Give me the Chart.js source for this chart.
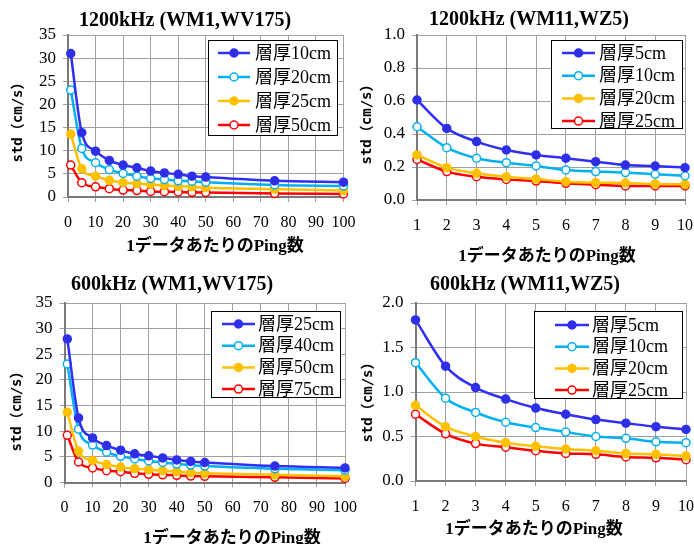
<!DOCTYPE html>
<html>
<head>
<meta charset="utf-8">
<script src="https://cdn.jsdelivr.net/npm/chart.js@4"></script>
<style>
  body { margin: 0; background: #fff; }
  #wrap { position: relative; width: 694px; height: 544px; overflow: hidden; }
  canvas { position: absolute; }
</style>
</head>
<body>
<div id="wrap">
  <canvas id="tl"></canvas>
  <canvas id="tr"></canvas>
  <canvas id="bl"></canvas>
  <canvas id="br"></canvas>
</div>
<script>
// Ping数 (x)
const pingsWide = [1, 5, 10, 15, 20, 25, 30, 35, 40, 45, 50, 75, 100];
const pingsNarrow = [1, 2, 3, 4, 5, 6, 7, 8, 9, 10];

// 1200kHz (WM1,WV175)
const tlLabels = ["層厚10cm", "層厚20cm", "層厚25cm", "層厚50cm"];
const tl10 = [31.0, 13.9, 9.9, 7.9, 6.9, 6.3, 5.6, 5.2, 4.9, 4.5, 4.3, 3.5, 3.2];
const tl20 = [23.1, 10.5, 7.4, 5.9, 5.1, 4.5, 4.0, 3.8, 3.5, 3.4, 3.2, 2.6, 2.4];
const tl25 = [13.6, 6.1, 4.5, 3.6, 3.1, 2.9, 2.7, 2.5, 2.3, 2.2, 2.0, 1.7, 1.4];
const tl50 = [6.9, 3.1, 2.2, 1.8, 1.5, 1.4, 1.2, 1.15, 1.1, 1.0, 0.95, 0.75, 0.65];

// 1200kHz (WM11,WZ5)
const trLabels = ["層厚5cm", "層厚10cm", "層厚20cm", "層厚25cm"];
const tr5 = [0.606, 0.434, 0.354, 0.303, 0.273, 0.253, 0.232, 0.212, 0.206, 0.196];
const tr10 = [0.444, 0.317, 0.253, 0.226, 0.206, 0.182, 0.172, 0.166, 0.156, 0.147];
const tr20 = [0.273, 0.196, 0.162, 0.141, 0.127, 0.111, 0.105, 0.103, 0.097, 0.095];
const tr25 = [0.246, 0.172, 0.141, 0.125, 0.115, 0.101, 0.093, 0.085, 0.085, 0.085];

// 600kHz (WM1,WV175)
const blLabels = ["層厚25cm", "層厚40cm", "層厚50cm", "層厚75cm"];
const bl25 = [28.0, 12.6, 8.7, 7.2, 6.3, 5.6, 5.2, 4.8, 4.4, 4.1, 3.9, 3.2, 2.85];
const bl40 = [23.1, 10.4, 7.3, 5.9, 5.1, 4.6, 4.2, 3.9, 3.6, 3.4, 3.2, 2.7, 2.4];
const bl50 = [13.7, 6.1, 4.3, 3.5, 3.0, 2.7, 2.5, 2.3, 2.1, 1.9, 1.8, 1.5, 1.2];
const bl75 = [9.2, 4.0, 2.85, 2.3, 2.1, 1.8, 1.6, 1.5, 1.4, 1.25, 1.2, 1.0, 0.8];

// 600kHz (WM11,WZ5)
const brLabels = ["層厚5cm", "層厚10cm", "層厚20cm", "層厚25cm"];
const br5 = [1.81, 1.29, 1.05, 0.92, 0.82, 0.75, 0.69, 0.65, 0.61, 0.58];
const br10 = [1.33, 0.93, 0.77, 0.66, 0.60, 0.55, 0.50, 0.48, 0.44, 0.43];
const br20 = [0.85, 0.61, 0.50, 0.43, 0.39, 0.36, 0.34, 0.31, 0.30, 0.28];
const br25 = [0.75, 0.53, 0.42, 0.38, 0.34, 0.31, 0.30, 0.27, 0.26, 0.24];

// 目盛り
const xTicksWide = [0, 10, 20, 30, 40, 50, 60, 70, 80, 90, 100];
const xTicksNarrow = [1, 2, 3, 4, 5, 6, 7, 8, 9, 10];
const yTicksWide = [0, 5, 10, 15, 20, 25, 30, 35];
const yTicksTR = [0, 0.2, 0.4, 0.6, 0.8, 1.0];
const yTicksBR = [0, 0.5, 1.0, 1.5, 2.0];

const xTitle = "1データあたりのPing数";
const yTitle = "std（cm/s）";

// 系列の見た目 (Excel風)
const seriesStyles = [
  { line: "#2f2ff5", fill: "#2f2fe0" },
  { line: "#00b0f0", fill: "#ffffff" },
  { line: "#ffc000", fill: "#ffc000" },
  { line: "#ff0000", fill: "#ffffff" },
];

// タイトル・軸タイトル・凡例を描くプラグイン
const decorPlugin = {
  id: "decor",
  afterDraw(chart, args, opts) {
    const ctx = chart.ctx;
    const ox = opts.left;
    const oy = opts.top;
    ctx.save();
    ctx.fillStyle = "#000";
    ctx.textAlign = "center";
    ctx.textBaseline = "middle";

    // タイトル
    ctx.font = 'bold 20px "Liberation Serif", "Noto Sans CJK JP"';
    ctx.fillText(opts.title, opts.titlePos[0] - ox, opts.titlePos[1] - oy);

    // x軸タイトル
    ctx.font = 'bold 17px "Liberation Serif", "Noto Sans CJK JP"';
    ctx.fillText(xTitle, opts.xTitlePos[0] - ox, opts.xTitlePos[1] - oy);

    // y軸タイトル
    ctx.save();
    ctx.translate(opts.yTitlePos[0] - ox, opts.yTitlePos[1] - oy);
    ctx.rotate(-Math.PI / 2);
    ctx.font = 'bold 14px "DejaVu Sans Mono", "Noto Sans CJK JP"';
    ctx.fillText(yTitle, 0, 0);
    ctx.restore();

    // 凡例
    const lg = opts.legend;
    ctx.fillStyle = "#fff";
    ctx.fillRect(lg.x - ox, lg.y - oy, lg.w, lg.h);
    ctx.strokeStyle = "#000";
    ctx.lineWidth = 1;
    ctx.strokeRect(lg.x - ox + 0.5, lg.y - oy + 0.5, lg.w, lg.h);
    ctx.textAlign = "left";
    ctx.font = '18px "Liberation Serif", "Noto Sans CJK JP"';
    chart.data.datasets.forEach((ds, i) => {
      const y = lg.row0 + i * lg.gap - oy;
      ctx.strokeStyle = ds.borderColor;
      ctx.lineWidth = 2.5;
      ctx.beginPath();
      ctx.moveTo(lg.line0 - ox, y);
      ctx.lineTo(lg.line1 - ox, y);
      ctx.stroke();
      ctx.beginPath();
      ctx.arc((lg.line0 + lg.line1) / 2 - ox, y, 4, 0, Math.PI * 2);
      ctx.fillStyle = ds.pointBackgroundColor;
      ctx.fill();
      ctx.lineWidth = 1.5;
      ctx.stroke();
      ctx.fillStyle = "#000";
      ctx.fillText(ds.label, lg.text - ox, y + 1);
    });
    ctx.restore();
  },
};

function makePanel(id, panel, xs, series, labels, xTicks, yTicks, decimals, decor) {
  const canvas = document.getElementById(id);
  canvas.width = panel.width;
  canvas.height = panel.height;
  canvas.style.left = panel.left + "px";
  canvas.style.top = panel.top + "px";
  const a = panel.area;
  const datasets = series.map((values, i) => ({
    label: labels[i],
    data: values.map((v, k) => ({ x: xs[k], y: v })),
    borderColor: seriesStyles[i].line,
    backgroundColor: seriesStyles[i].line,
    pointBackgroundColor: seriesStyles[i].fill,
    pointBorderColor: seriesStyles[i].line,
    pointBorderWidth: 1.5,
    pointRadius: 4,
    borderWidth: 2.5,
    cubicInterpolationMode: "monotone",
    clip: false,
  }));
  return new Chart(canvas, {
    type: "line",
    data: { datasets: datasets },
    plugins: [decorPlugin],
    options: {
      responsive: false,
      animation: false,
      events: [],
      layout: {
        padding: {
          left: 0,
          top: a.t - panel.top,
          right: panel.left + panel.width - a.r,
          bottom: 0,
        },
      },
      plugins: {
        legend: { display: false },
        tooltip: { enabled: false },
        decor: decor,
      },
      scales: {
        x: {
          type: "linear",
          min: xTicks[0],
          max: xTicks[xTicks.length - 1],
          afterBuildTicks: (s) => { s.ticks = xTicks.map((v) => ({ value: v })); },
          afterFit: (s) => {
            s.height = panel.top + panel.height - a.b;
            s.paddingLeft = 0;
            s.paddingRight = 0;
          },
          grid: { color: "#a0a0a0", lineWidth: 1, tickLength: 5 },
          border: { color: "#7a7a7a", width: 2 },
          ticks: {
            color: "#000",
            padding: 11,
            maxRotation: 0,
            autoSkip: false,
            font: { family: '"Liberation Serif"', size: 16 },
          },
        },
        y: {
          min: yTicks[0],
          max: yTicks[yTicks.length - 1],
          afterBuildTicks: (s) => { s.ticks = yTicks.map((v) => ({ value: v })); },
          afterFit: (s) => { s.width = a.l - panel.left; },
          grid: { color: "#a0a0a0", lineWidth: 1, tickLength: 5 },
          border: { color: "#7a7a7a", width: 2 },
          ticks: {
            color: "#000",
            padding: 7,
            autoSkip: false,
            font: { family: '"Liberation Serif"', size: 17 },
            callback: (v) => (decimals ? Number(v).toFixed(1) : String(v)),
          },
        },
      },
    },
  });
}

document.addEventListener("DOMContentLoaded", () => {
  // 左上
  makePanel("tl",
    { left: 0, top: 0, width: 372, height: 272, area: { l: 68, r: 343.5, t: 35, b: 197 } },
    pingsWide, [tl10, tl20, tl25, tl50], tlLabels, xTicksWide, yTicksWide, false,
    {
      left: 0, top: 0, title: "1200kHz (WM1,WV175)",
      titlePos: [185, 21], xTitlePos: [215, 247], yTitlePos: [18, 119],
      legend: { x: 208, y: 40, w: 129, h: 95, row0: 53, gap: 24, line0: 218, line1: 250, text: 255 },
    });
  // 右上
  makePanel("tr",
    { left: 347, top: 0, width: 347, height: 272, area: { l: 417, r: 685, t: 35, b: 200 } },
    pingsNarrow, [tr5, tr10, tr20, tr25], trLabels, xTicksNarrow, yTicksTR, true,
    {
      left: 347, top: 0, title: "1200kHz (WM11,WZ5)",
      titlePos: [529, 20], xTitlePos: [547, 257], yTitlePos: [367, 121],
      legend: { x: 551, y: 40, w: 131, h: 88, row0: 53, gap: 22.7, line0: 562, line1: 595, text: 599 },
    });
  // 左下
  makePanel("bl",
    { left: 0, top: 272, width: 372, height: 272, area: { l: 64.5, r: 345, t: 303, b: 482.5 } },
    pingsWide, [bl25, bl40, bl50, bl75], blLabels, xTicksWide, yTicksWide, false,
    {
      left: 0, top: 272, title: "600kHz (WM1,WV175)",
      titlePos: [172, 285], xTitlePos: [232, 539], yTitlePos: [17, 408],
      legend: { x: 211, y: 311, w: 129, h: 86, row0: 324, gap: 21.7, line0: 222, line1: 255, text: 258 },
    });
  // 右下
  makePanel("br",
    { left: 347, top: 272, width: 347, height: 272, area: { l: 415.5, r: 686, t: 303, b: 481 } },
    pingsNarrow, [br5, br10, br20, br25], brLabels, xTicksNarrow, yTicksBR, true,
    {
      left: 347, top: 272, title: "600kHz (WM11,WZ5)",
      titlePos: [525, 285], xTitlePos: [534, 530], yTitlePos: [368, 399],
      legend: { x: 534, y: 311, w: 148, h: 87, row0: 325, gap: 21.7, line0: 555, line1: 589, text: 592 },
    });
});
</script>
</body>
</html>
